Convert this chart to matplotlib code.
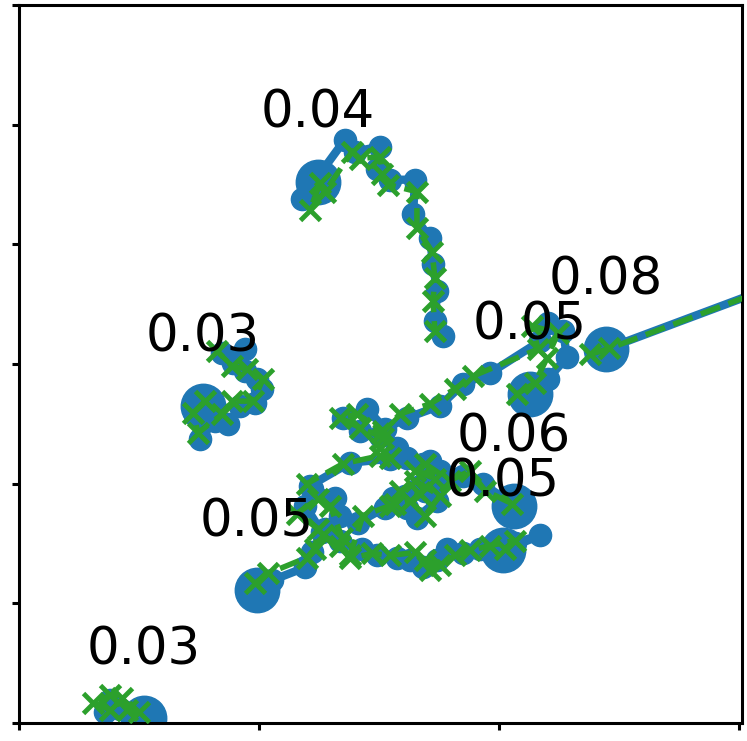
import matplotlib
matplotlib.use('Agg')
import matplotlib.pyplot as plt

# blue trajectories (x, y) and green trajectories (x, y), one per start label
A_BLUE_X = [0.52, 0.46, 0.42, 0.38, 0.36]
A_BLUE_Y = [0.04, 0.08, 0.12, 0.19, 0.09]
A_GREEN_X = [0.50, 0.45, 0.43, 0.38, 0.31, 0.38]
A_GREEN_Y = [0.09, 0.11, 0.21, 0.23, 0.17, 0.11]

B_BLUE_X = [0.767, 0.733, 0.754, 0.817, 0.871, 0.921, 0.983, 1.012, 0.992, 0.942, 0.892, 0.846, 0.942]
B_BLUE_Y = [2.65, 2.57, 2.375, 2.525, 2.50, 2.65, 2.675, 2.79, 2.875, 2.94, 3.01, 3.09, 3.125]
B_GREEN_X = [0.775, 0.725, 0.746, 0.846, 0.888, 0.975, 1.017, 0.95, 0.888, 0.825]
B_GREEN_Y = [2.69, 2.59, 2.425, 2.58, 2.69, 2.69, 2.875, 2.96, 2.98, 3.11]

C_BLUE_X = [1.246, 1.179, 1.358, 1.40, 1.504, 1.492, 1.546, 1.65, 1.642, 1.713, 1.725, 1.742, 1.733, 1.767]
C_BLUE_Y = [4.525, 4.383, 4.875, 4.775, 4.817, 4.633, 4.54, 4.54, 4.25, 4.05, 3.833, 3.608, 3.358, 3.233]
C_GREEN_X = [1.254, 1.213, 1.275, 1.388, 1.42, 1.504, 1.513, 1.538, 1.658, 1.658, 1.721, 1.733, 1.725, 1.733]
C_GREEN_Y = [4.51, 4.29, 4.44, 4.775, 4.717, 4.733, 4.59, 4.50, 4.44, 4.133, 3.94, 3.717, 3.525, 3.275]

D_BLUE_X = [2.446, 3.40]
D_BLUE_Y = [3.125, 3.84]
D_GREEN_X = [2.38, 2.46, 3.40]
D_GREEN_Y = [3.08, 3.13, 3.84]

E_BLUE_X = [2.129, 2.204, 2.283, 2.267, 2.204, 2.171, 1.963, 1.85, 1.754, 1.617,
            1.525, 1.45, 1.35, 1.421, 1.504, 1.575, 1.617, 1.546, 1.379, 1.213]
E_BLUE_Y = [2.75, 2.875, 3.058, 3.275, 3.342, 3.19, 2.925, 2.833, 2.65, 2.55,
            2.458, 2.625, 2.55, 2.442, 2.40, 2.30, 2.217, 2.208, 2.175, 1.983]
E_GREEN_X = [2.075, 2.15, 2.20, 2.246, 2.138, 2.163, 1.892, 1.817, 1.713, 1.588,
             1.517, 1.408, 1.338, 1.421, 1.517, 1.504, 1.546, 1.504, 1.35, 1.20]
E_GREEN_Y = [2.75, 2.842, 3.05, 3.258, 3.317, 3.125, 2.90, 2.792, 2.667, 2.583,
             2.442, 2.583, 2.55, 2.467, 2.383, 2.30, 2.217, 2.233, 2.167, 2.00]

F_BLUE_X = [2.063, 1.933, 1.85, 1.754, 1.713, 1.683, 1.754, 1.692, 1.608, 1.558, 1.617, 1.658, 1.742, 1.671]
F_BLUE_Y = [1.817, 2.00, 2.067, 2.108, 2.192, 2.167, 2.025, 1.942, 1.90, 1.883, 1.80, 1.717, 1.858, 1.983]
F_GREEN_X = [2.054, 1.942, 1.879, 1.796, 1.692, 1.65, 1.733, 1.671, 1.588, 1.567, 1.629, 1.692, 1.754, 1.65]
F_GREEN_Y = [1.833, 1.942, 2.108, 2.025, 2.167, 2.108, 2.042, 1.917, 1.942, 1.833, 1.858, 1.733, 1.90, 2.025]

G_BLUE_X = [2.017, 2.171, 2.067, 1.921, 1.85, 1.783, 1.742, 1.683, 1.629, 1.575, 1.492, 1.429, 1.338, 1.275]
G_BLUE_Y = [1.442, 1.567, 1.508, 1.458, 1.417, 1.458, 1.358, 1.30, 1.358, 1.375, 1.40, 1.458, 1.525, 1.625]
G_GREEN_X = [2.025, 2.067, 1.963, 1.879, 1.817, 1.754, 1.692, 1.713, 1.65, 1.546, 1.471, 1.379, 1.338, 1.267]
G_GREEN_Y = [1.458, 1.525, 1.483, 1.442, 1.40, 1.317, 1.358, 1.275, 1.425, 1.40, 1.417, 1.375, 1.483, 1.567]

H_BLUE_X = [0.992, 1.054, 1.192, 1.221, 1.263, 1.192, 1.221, 1.317, 1.338, 1.413, 1.525, 1.588]
H_BLUE_Y = [1.108, 1.192, 1.30, 1.425, 1.592, 1.817, 1.958, 1.883, 1.733, 1.675, 1.80, 1.858]
H_GREEN_X = [0.983, 1.038, 1.20, 1.233, 1.246, 1.158, 1.246, 1.296, 1.346, 1.379, 1.433, 1.546]
H_GREEN_Y = [1.167, 1.25, 1.383, 1.458, 1.625, 1.75, 1.875, 1.817, 1.55, 1.40, 1.733, 1.817]

LABELS = ['0.03', '0.03', '0.04', '0.08', '0.05', '0.06', '0.05', '0.05']

TRACKS = [
    (A_BLUE_X, A_BLUE_Y, A_GREEN_X, A_GREEN_Y),
    (B_BLUE_X, B_BLUE_Y, B_GREEN_X, B_GREEN_Y),
    (C_BLUE_X, C_BLUE_Y, C_GREEN_X, C_GREEN_Y),
    (D_BLUE_X, D_BLUE_Y, D_GREEN_X, D_GREEN_Y),
    (E_BLUE_X, E_BLUE_Y, E_GREEN_X, E_GREEN_Y),
    (F_BLUE_X, F_BLUE_Y, F_GREEN_X, F_GREEN_Y),
    (G_BLUE_X, G_BLUE_Y, G_GREEN_X, G_GREEN_Y),
    (H_BLUE_X, H_BLUE_Y, H_GREEN_X, H_GREEN_Y),
]


def main():
    fig = plt.figure(figsize=(7.47, 7.41), dpi=100)
    ax = fig.add_axes([19 / 747, 18 / 741, 723 / 747, 718 / 741])

    for (bx, by, gx, gy), label in zip(TRACKS, LABELS):
        ax.plot(bx, by, '-o', color='tab:blue', lw=6, ms=16, zorder=2)
        ax.plot(bx[0], by[0], 'o', color='tab:blue', ms=32, zorder=2)
        ax.plot(gx, gy, '--x', color='tab:green', lw=4, ms=15, mew=3.5, zorder=3)
        ax.annotate(label, (bx[0], by[0]), xytext=(0, 49), textcoords='offset points',
                    ha='center', va='center', fontsize=37, zorder=4)

    ax.set_xlim(0, 3.0125)
    ax.set_ylim(0, 6)
    ax.set_xticks([0, 1, 2, 3])
    ax.set_yticks([0, 1, 2, 3, 4, 5, 6])
    ax.set_xticklabels([])
    ax.set_yticklabels([])
    ax.tick_params(length=5, width=2.2)
    for spine in ax.spines.values():
        spine.set_linewidth(2.2)

    fig.savefig('out.png', dpi=100)


if __name__ == '__main__':
    main()
